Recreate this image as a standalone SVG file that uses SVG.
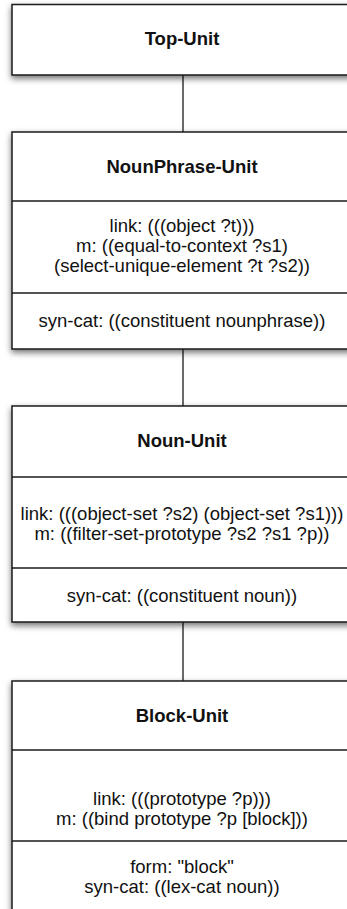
<svg xmlns="http://www.w3.org/2000/svg" width="347" height="909" viewBox="0 0 347 909">
<style>
.box{fill:#fff;stroke:#1a1a1a;stroke-width:1.5;filter:url(#sh)}
.div{stroke:#1a1a1a;stroke-width:1.5}
.con{stroke:#1a1a1a;stroke-width:1.3;fill:none}
text{font-family:"Liberation Sans",Arial,sans-serif;font-size:18.5px;fill:#111;text-anchor:middle}
.t{font-weight:bold}
</style>
<defs>
<filter id="sh" x="-10%" y="-10%" width="120%" height="130%">
<feDropShadow dx="0" dy="3" stdDeviation="3" flood-color="#000" flood-opacity="0.55"/>
</filter>
</defs>
<g id="connectors">
<line class="con" x1="183" y1="75" x2="183" y2="132"/>
<line class="con" x1="183" y1="349" x2="183" y2="406"/>
<line class="con" x1="183" y1="622" x2="183" y2="681"/>
</g>
<g id="top-unit">
<rect class="box" x="12" y="4.5" width="345" height="70.5"/>
<text class="t" x="182" y="44.5">Top-Unit</text>
</g>
<g id="nounphrase-unit">
<rect class="box" x="12" y="132" width="345" height="217"/>
<line class="div" x1="12" y1="201" x2="357" y2="201"/>
<line class="div" x1="12" y1="293" x2="357" y2="293"/>
<text class="t" x="182" y="173">NounPhrase-Unit</text>
<text x="182" y="232">link: (((object ?t)))</text>
<text x="182" y="252">m: ((equal-to-context ?s1)</text>
<text x="182" y="272">(select-unique-element ?t ?s2))</text>
<text x="182" y="327">syn-cat: ((constituent nounphrase))</text>
</g>
<g id="noun-unit">
<rect class="box" x="12" y="406" width="345" height="216"/>
<line class="div" x1="12" y1="477" x2="357" y2="477"/>
<line class="div" x1="12" y1="568" x2="357" y2="568"/>
<text class="t" x="182" y="447">Noun-Unit</text>
<text x="182" y="520">link: (((object-set ?s2) (object-set ?s1)))</text>
<text x="182" y="540">m: ((filter-set-prototype ?s2 ?s1 ?p))</text>
<text x="182" y="602">syn-cat: ((constituent noun))</text>
</g>
<g id="block-unit">
<rect class="box" x="12" y="681" width="345" height="240"/>
<line class="div" x1="12" y1="750" x2="357" y2="750"/>
<line class="div" x1="12" y1="841" x2="357" y2="841"/>
<text class="t" x="182" y="722">Block-Unit</text>
<text x="182" y="805">link: (((prototype ?p)))</text>
<text x="182" y="825">m: ((bind prototype ?p [block]))</text>
<text x="182" y="873">form: "block"</text>
<text x="182" y="893">syn-cat: ((lex-cat noun))</text>
</g>
</svg>
